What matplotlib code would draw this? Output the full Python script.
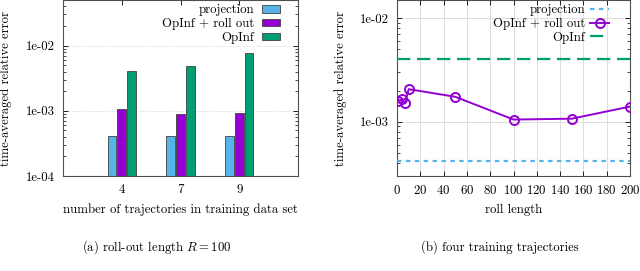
import numpy as np
import matplotlib
matplotlib.use("Agg")
import matplotlib.pyplot as plt
from matplotlib.ticker import LogLocator, FixedLocator, NullFormatter

plt.rcParams['font.family'] = ['cmr10', 'DejaVu Serif']
plt.rcParams['mathtext.fontset'] = 'cm'
plt.rcParams['axes.formatter.use_mathtext'] = True

# ---- data ----
categories = ["4", "7", "9"]
proj_bar = [4.1e-4, 4.1e-4, 4.1e-4]
rollout_bar = [1.06e-3, 9.0e-4, 9.1e-4]
opinf_bar = [4.1e-3, 4.8e-3, 7.6e-3]

roll_len = [1, 4, 7, 10, 50, 100, 150, 200]
rollout_err = [1.58e-3, 1.64e-3, 1.51e-3, 2.06e-3, 1.74e-3, 1.05e-3, 1.07e-3, 1.40e-3]
proj_const = 4.15e-4
opinf_const = 4.0e-3

c_proj = '#56B4E9'
c_roll = '#9400D3'
c_opinf = '#009E73'
fs = 9.2

fig = plt.figure(figsize=(6.4, 2.71), dpi=100)
ax1 = fig.add_axes([63/640, 1-176/271, 235/640, 176/271])
ax2 = fig.add_axes([397/640, 1-176/271, 233/640, 176/271])

# ---- left: bars ----
x = np.arange(len(categories))
w = 0.15
off = 0.165
ax1.bar(x - off, proj_bar, w, color=c_proj, edgecolor='#404040', lw=0.6, label='projection', zorder=3)
ax1.bar(x, rollout_bar, w, color=c_roll, edgecolor='#404040', lw=0.6, label='OpInf + roll out', zorder=3)
ax1.bar(x + off, opinf_bar, w, color=c_opinf, edgecolor='#404040', lw=0.6, label='OpInf', zorder=3)
ax1.set_yscale('log')
ax1.set_ylim(1e-4, 0.05)
ax1.set_xlim(-1, 3)
ax1.set_xticks(x)
ax1.set_xticklabels(categories)
ax1.yaxis.set_major_locator(FixedLocator([1e-4, 1e-3, 1e-2]))
ax1.set_yticklabels(['1e-04', '1e-03', '1e-02'])
ax1.yaxis.set_minor_locator(LogLocator(base=10, subs=np.arange(2, 10)))
ax1.yaxis.set_minor_formatter(NullFormatter())
ax1.grid(axis='y', which='major', color='#c8c8c8', lw=0.6, ls=':')
ax1.set_xlabel('number of trajectories in training data set', fontsize=fs, labelpad=5)
ax1.set_ylabel('time-averaged relative error', fontsize=fs, labelpad=10)
leg1 = ax1.legend(loc='upper right', bbox_to_anchor=((283 - 63) / 235, 0.99), markerfirst=False,
                  frameon=False, fontsize=fs, handlelength=1.45, handleheight=0.5,
                  labelspacing=0.12, borderaxespad=0, borderpad=0.2, handletextpad=0.6)

# ---- right: lines ----
ax2.axhline(proj_const, color=c_proj, ls=(0, (2, 2)), lw=1.6, label='projection', zorder=3)
ax2.plot(roll_len, rollout_err, color=c_roll, lw=1.4, marker='o', ms=6.5, mfc='none',
         mew=1.4, label='OpInf + roll out', zorder=4)
ax2.axhline(opinf_const, color=c_opinf, ls=(0, (6, 3)), lw=1.6, label='OpInf', zorder=3)
ax2.set_yscale('log')
ax2.set_ylim(3.0e-4, 1.49e-2)
ax2.set_xlim(0, 200)
ax2.set_xticks(np.arange(0, 201, 20))
ax2.yaxis.set_major_locator(FixedLocator([1e-3, 1e-2]))
ax2.set_yticklabels(['1e-03', '1e-02'])
ax2.yaxis.set_minor_locator(LogLocator(base=10, subs=np.arange(2, 10)))
ax2.yaxis.set_minor_formatter(NullFormatter())
ax2.grid(which='major', color='#dddddd', lw=0.7)
ax2.set_xlabel('roll length', fontsize=fs, labelpad=5)
ax2.set_ylabel('time-averaged relative error', fontsize=fs, labelpad=9)
leg2 = ax2.legend(loc='upper right', bbox_to_anchor=((612 - 397) / 233, 0.99), markerfirst=False,
                  frameon=False, fontsize=fs, handlelength=1.5, labelspacing=0.12,
                  borderaxespad=0, borderpad=0.2, handletextpad=0.4)

for ax in (ax1, ax2):
    ax.set_axisbelow(True)
    ax.tick_params(which='both', direction='in', top=True, right=True, labelsize=fs, pad=6)
    ax.tick_params(which='major', length=3.5, width=0.6)
    ax.tick_params(which='minor', length=2, width=0.5)
    for s in ax.spines.values():
        s.set_color('#505050')
        s.set_linewidth(0.8)
ax1.tick_params(axis='x', which='minor', top=False, bottom=False)

fig.text(157/640, 1-247/271, r'(a) roll-out length $R = 100$', ha='center', va='center', fontsize=fs)
fig.text(500/640, 1-247/271, '(b) four training trajectories', ha='center', va='center', fontsize=fs)

fig.savefig('out.png', dpi=100)
